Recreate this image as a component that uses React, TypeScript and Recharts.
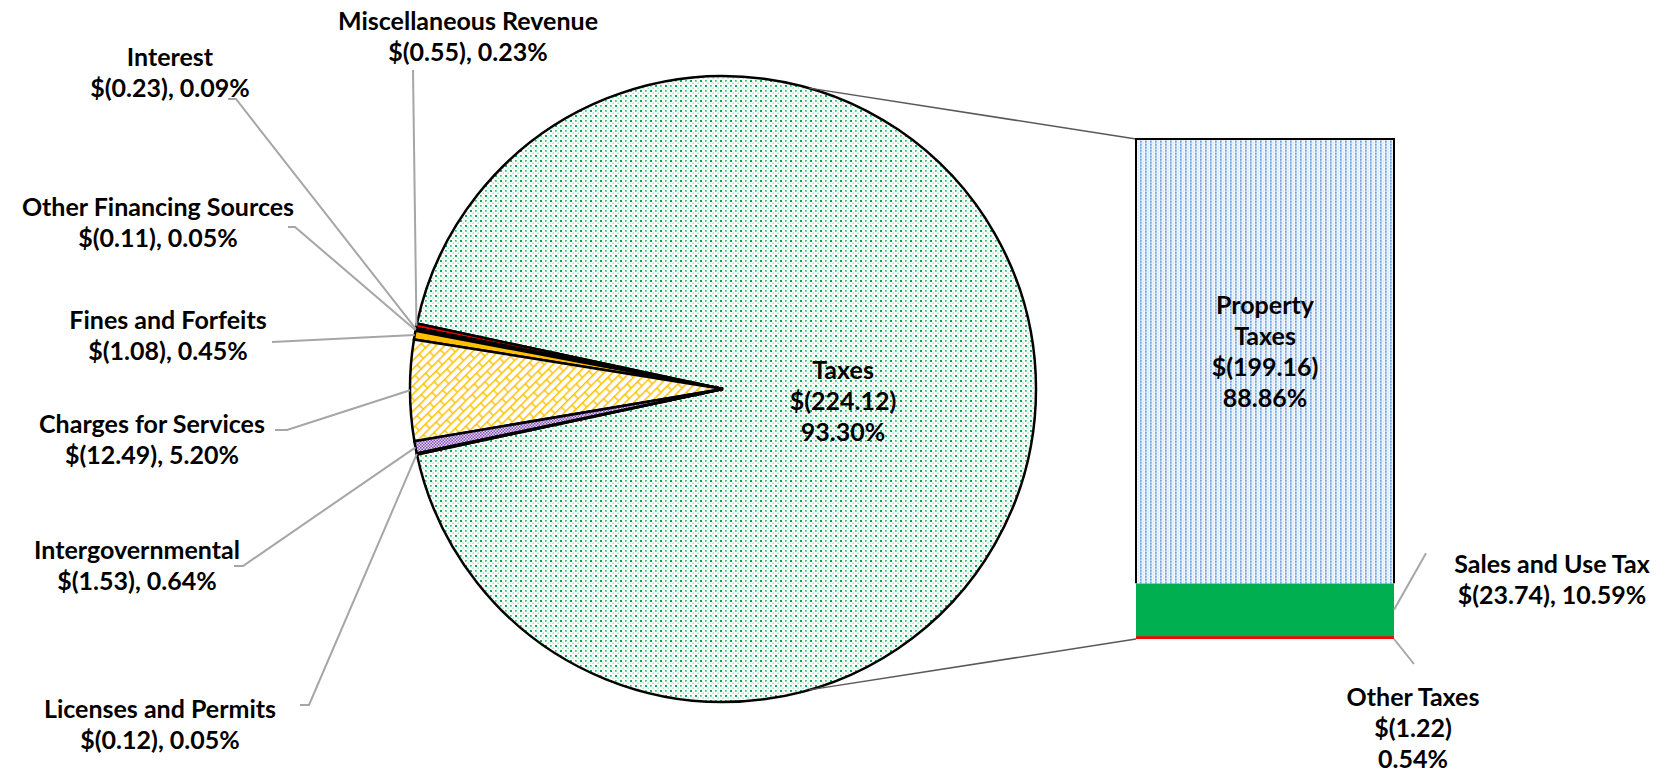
import React from 'react';
import { PieChart, Pie, Cell, BarChart, Bar, XAxis, YAxis } from 'recharts';

// General fund revenue ($ millions), pie slices in drawing order
const categories = [
  'Taxes',
  'Miscellaneous Revenue',
  'Interest',
  'Other Financing Sources',
  'Fines and Forfeits',
  'Charges for Services',
  'Intergovernmental',
  'Licenses and Permits',
];
const amounts = [224.12, 0.55, 0.23, 0.11, 1.08, 12.49, 1.53, 0.12];
const shares = ['93.30%', '0.23%', '0.09%', '0.05%', '0.45%', '5.20%', '0.64%', '0.05%'];

// Taxes broken out in the bar, bottom to top
const taxTypes = ['Other Taxes', 'Sales and Use Tax', 'Property Taxes'];
const taxAmounts = [1.22, 23.74, 199.16];
const taxShares = ['0.54%', '10.59%', '88.86%'];

// layout
const W = 1674;
const H = 775;
const PIE_CX = 723;
const PIE_CY = 389;
const PIE_R = 313;
const BAR_LEFT = 1136;
const BAR_TOP = 139;
const BAR_W = 258;
const BAR_H = 500;
const CONNECT_ANGLE = 74;
const FONT = 'Lato, "Open Sans", sans-serif';
const FS = 25;
const LH = 31;
const LEADER = '#A6A6A6';

const sliceFills = [
  'url(#dotsGreen)',
  '#FF0000',
  '#262626',
  '#404040',
  '#FFC000',
  'url(#brickYellow)',
  'url(#checkPurple)',
  '#A5A5A5',
];
const taxFills = ['#FF0000', '#00B050', 'url(#dotsBlue)'];

// where each pie label sits, and the bend points of its leader line
const pieLabelPos: Record<string, { x: number; y: number; leader?: number[][] }> = {
  Taxes: { x: 843, y: 369 },
  'Miscellaneous Revenue': { x: 468, y: 20, leader: [[413, 70]] },
  Interest: { x: 170, y: 56, leader: [[228, 99], [236, 99]] },
  'Other Financing Sources': { x: 158, y: 206, leader: [[288, 227], [295, 227]] },
  'Fines and Forfeits': { x: 168, y: 319, leader: [[272, 342]] },
  'Charges for Services': { x: 152, y: 423, leader: [[275, 430], [287, 430]] },
  Intergovernmental: { x: 137, y: 549, leader: [[234, 566], [243, 566]] },
  'Licenses and Permits': { x: 160, y: 708, leader: [[300, 705], [309, 705]] },
};

const money = (v: number) => `$(${v.toFixed(2)})`;

const pieData = categories.map((name, i) => ({ name, value: amounts[i] }));
const barRow: Record<string, any> = { name: 'Taxes' };
taxTypes.forEach((t, i) => (barRow[t] = taxAmounts[i]));
const barData = [barRow];
const taxTotal = taxAmounts.reduce((a, b) => a + b, 0);
const total = amounts.reduce((a, b) => a + b, 0);
// the split slice (Taxes) is centred on the right, facing the bar
const startAngle = -((amounts[0] / total) * 360) / 2;

const TextBlock = ({ x, y, lines }: { x: number; y: number; lines: string[] }) => (
  <text
    x={x}
    y={y}
    textAnchor="middle"
    dominantBaseline="central"
    fontFamily={FONT}
    fontSize={FS}
    fontWeight={700}
    fill="#000"
  >
    {lines.map((l, i) => (
      <tspan key={i} x={x} y={y + i * LH}>
        {l}
      </tspan>
    ))}
  </text>
);

const polar = (cx: number, cy: number, r: number, deg: number) => {
  const rad = (-deg * Math.PI) / 180;
  return [cx + r * Math.cos(rad), cy + r * Math.sin(rad)];
};

const renderPieLabel = (props: any) => {
  const { cx, cy, midAngle, outerRadius, index } = props;
  const name = categories[index];
  const pos = pieLabelPos[name];
  if (index === 0) {
    return <TextBlock key={name} x={pos.x} y={pos.y} lines={[name, money(amounts[0]), shares[0]]} />;
  }
  const [ex, ey] = polar(cx, cy, outerRadius, midAngle);
  const pts = [...(pos.leader || []), [ex, ey]];
  return (
    <g key={name}>
      <polyline points={pts.map((p) => p.join(',')).join(' ')} fill="none" stroke={LEADER} strokeWidth={2} />
      <TextBlock x={pos.x} y={pos.y} lines={[name, `${money(amounts[index])}, ${shares[index]}`]} />
    </g>
  );
};

const PropertyShape = (props: any) => {
  const { x, y, width, height, fill } = props;
  const [px, py] = polar(PIE_CX, PIE_CY, PIE_R, CONNECT_ANGLE);
  return (
    <g>
      <line x1={px} y1={py} x2={x} y2={y} stroke="#595959" strokeWidth={1.5} />
      <rect x={x} y={y} width={width} height={height} fill={fill} />
      <path d={`M${x},${y + height}V${y}H${x + width}V${y + height}`} fill="none" stroke="#000" strokeWidth={2} />
      <TextBlock
        x={x + width / 2}
        y={y + height / 2 - 57}
        lines={['Property', 'Taxes', money(taxAmounts[2]), taxShares[2]]}
      />
    </g>
  );
};

const SalesShape = (props: any) => {
  const { x, y, width, height, fill } = props;
  return (
    <g>
      <rect x={x} y={y} width={width} height={height} fill={fill} />
      <line x1={x + width} y1={y + height / 2} x2={x + width + 32} y2={y - 30} stroke={LEADER} strokeWidth={2} />
      <TextBlock x={x + width + 158} y={y - 20} lines={[taxTypes[1], `${money(taxAmounts[1])}, ${taxShares[1]}`]} />
    </g>
  );
};

const OtherShape = (props: any) => {
  const { x, y, width, height, fill } = props;
  const [px, py] = polar(PIE_CX, PIE_CY, PIE_R, -CONNECT_ANGLE);
  return (
    <g>
      <line x1={px} y1={py} x2={x} y2={y + height} stroke="#595959" strokeWidth={1.5} />
      <rect x={x} y={y - 1} width={width} height={height + 1} fill={fill} />
      <line x1={x + width} y1={y + height} x2={x + width + 20} y2={y + height + 25} stroke={LEADER} strokeWidth={2} />
      <TextBlock x={x + width + 19} y={y + height + 57} lines={[taxTypes[0], money(taxAmounts[0]), taxShares[0]]} />
    </g>
  );
};

const taxShapes = [OtherShape, SalesShape, PropertyShape];

const Patterns = () => (
  <svg width={0} height={0} style={{ position: 'absolute' }}>
    <defs>
      <pattern id="dotsGreen" width={10} height={10} patternUnits="userSpaceOnUse">
        <rect width={10} height={10} fill="#fff" />
        <rect x={0} y={0} width={2} height={2} fill="#00B050" />
        <rect x={5} y={5} width={2} height={2} fill="#00B050" />
        <rect x={5} y={0} width={1.7} height={1.7} fill="#3CBF72" />
        <rect x={0} y={5} width={1.7} height={1.7} fill="#3CBF72" />
        <rect x={2.5} y={2.5} width={1.3} height={1.3} fill="#8ED8AD" />
        <rect x={7.5} y={7.5} width={1.3} height={1.3} fill="#8ED8AD" />
        <rect x={7.5} y={2.5} width={1.3} height={1.3} fill="#8ED8AD" />
        <rect x={2.5} y={7.5} width={1.3} height={1.3} fill="#8ED8AD" />
      </pattern>
      <pattern id="dotsBlue" width={5} height={3} patternUnits="userSpaceOnUse">
        <rect width={5} height={3} fill="#F4F8FD" />
        <rect x={0} y={0} width={1.6} height={3} fill="#B4D0EF" />
        <rect x={0} y={0} width={1.6} height={1.5} fill="#6FA3DD" />
        <rect x={2.6} y={1.5} width={1.2} height={1.2} fill="#C6DBF3" />
      </pattern>
      <pattern id="brickYellow" width={18} height={12} patternUnits="userSpaceOnUse" patternTransform="rotate(-45)">
        <rect width={18} height={12} fill="#fff" />
        <path d="M0,0.7H18M0,6.7H18M1,0.7V6.7M10,6.7V12.7" stroke="#FFC000" strokeWidth={1.4} fill="none" />
      </pattern>
      <pattern id="checkPurple" width={3} height={3} patternUnits="userSpaceOnUse">
        <rect width={3} height={3} fill="#E6D8F2" />
        <rect x={0} y={0} width={1.5} height={1.5} fill="#8050B8" />
        <rect x={1.5} y={1.5} width={1.5} height={1.5} fill="#8050B8" />
      </pattern>
    </defs>
  </svg>
);

export default function App() {
  return (
    <div style={{ position: 'absolute', left: 0, top: 0, width: W, height: H, background: '#fff' }}>
      <Patterns />
      <div style={{ position: 'absolute', left: 0, top: 0 }}>
        <PieChart width={W} height={H} margin={{ top: 0, right: 0, bottom: 0, left: 0 }}>
          <Pie
            data={pieData}
            dataKey="value"
            nameKey="name"
            cx={PIE_CX}
            cy={PIE_CY}
            outerRadius={PIE_R}
            startAngle={startAngle}
            endAngle={startAngle + 360}
            stroke="#000"
            strokeWidth={2.5}
            label={renderPieLabel}
            labelLine={false}
            isAnimationActive={false}
          >
            {pieData.map((d, i) => (
              <Cell key={d.name} fill={sliceFills[i]} stroke="#000" strokeWidth={2.5} />
            ))}
          </Pie>
        </PieChart>
      </div>
      <div style={{ position: 'absolute', left: 0, top: 0 }}>
        <BarChart
          width={W}
          height={H}
          data={barData}
          margin={{ top: BAR_TOP, left: BAR_LEFT, right: W - BAR_LEFT - BAR_W, bottom: H - BAR_TOP - BAR_H }}
          barCategoryGap={0}
          barGap={0}
        >
          <XAxis dataKey="name" hide />
          <YAxis hide domain={[0, taxTotal]} />
          {taxTypes.map((t, i) => (
            <Bar
              key={t}
              dataKey={t}
              stackId="tax"
              fill={taxFills[i]}
              shape={taxShapes[i]}
              isAnimationActive={false}
            />
          ))}
        </BarChart>
      </div>
    </div>
  );
}
